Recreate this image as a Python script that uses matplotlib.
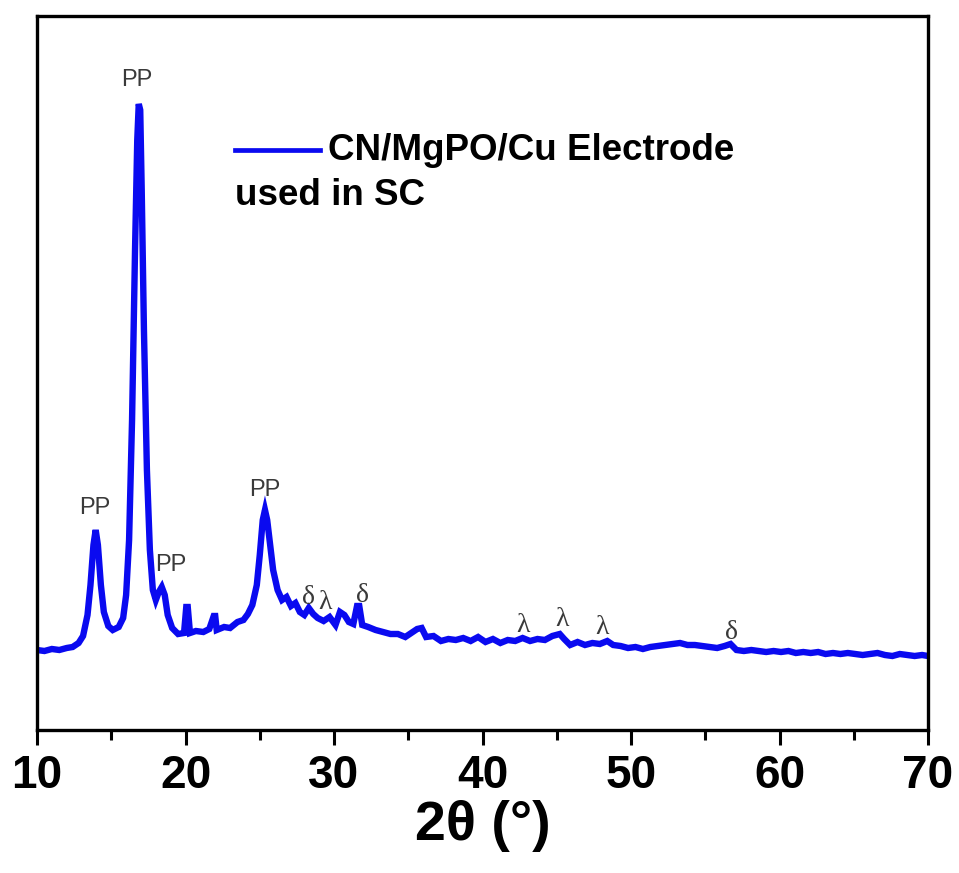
import numpy as np
import matplotlib
matplotlib.use("Agg")
from matplotlib import pyplot as plt

# XRD pattern, values (intensity in arbitrary units)
two_theta = [10.0, 10.5, 11.0, 11.5, 12.0, 12.4, 12.8, 13.1, 13.4, 13.6, 13.8, 13.95,
             14.1, 14.3, 14.5, 14.8, 15.1, 15.5, 15.8, 16.0, 16.2, 16.4, 16.6, 16.75,
             16.85, 16.95, 17.05, 17.2, 17.4, 17.6, 17.8, 18.0, 18.2, 18.4, 18.6, 18.8,
             19.1, 19.5, 19.9, 20.05, 20.15, 20.3, 20.7, 21.2, 21.6, 21.9, 22.0, 22.1,
             22.6, 23.0, 23.5, 23.9, 24.2, 24.5, 24.8, 25.0, 25.2, 25.35, 25.5, 25.7,
             25.9, 26.2, 26.5, 26.8, 27.1, 27.4, 27.7, 28.0, 28.3, 28.6, 28.9, 29.3,
             29.7, 30.1, 30.4, 30.7, 31.0, 31.3, 31.55, 31.7, 31.9, 32.3, 32.8, 33.3,
             33.8, 34.3, 34.8, 35.2, 35.6, 35.9, 36.2, 36.7, 37.2, 37.7, 38.2, 38.7,
             39.2, 39.7, 40.2, 40.7, 41.2, 41.7, 42.2, 42.7, 43.2, 43.7, 44.2, 44.7,
             45.2, 45.5, 45.9, 46.4, 46.9, 47.4, 47.9, 48.4, 48.8, 49.3, 49.8, 50.3,
             50.8, 51.3, 51.8, 52.3, 52.8, 53.3, 53.8, 54.3, 54.8, 55.3, 55.8, 56.3,
             56.7, 57.1, 57.6, 58.1, 58.6, 59.1, 59.6, 60.1, 60.6, 61.1, 61.6, 62.1,
             62.6, 63.1, 63.6, 64.1, 64.6, 65.1, 65.6, 66.1, 66.6, 67.1, 67.6, 68.1,
             68.6, 69.1, 69.6, 70.0]
pixel_y = [650, 651, 649, 650, 648, 647, 643, 636, 615, 585, 545, 530,
           545, 585, 612, 626, 630, 627, 618, 595, 540, 420, 250, 140,
           104, 110, 190, 330, 470, 550, 590, 600, 592, 587, 595, 615,
           628, 634, 633, 607, 607, 633, 631, 632, 629, 616, 616, 630,
           627, 628, 622, 620, 614, 605, 585, 555, 520, 510, 520, 545,
           570, 590, 600, 597, 606, 603, 612, 615, 608, 614, 618, 621,
           617, 625, 612, 615, 622, 624, 606, 606, 625, 627, 630, 632,
           634, 634, 637, 633, 629, 628, 637, 636, 641, 639, 640, 638,
           641, 637, 642, 639, 643, 640, 641, 638, 641, 639, 640, 636,
           634, 639, 645, 642, 645, 643, 644, 641, 645, 646, 648, 647,
           649, 647, 646, 645, 644, 643, 645, 645, 646, 647, 648, 646,
           644, 650, 651, 650, 651, 652, 651, 652, 651, 653, 652, 653,
           652, 654, 653, 654, 653, 654, 655, 654, 653, 655, 656, 654,
           655, 656, 655, 656]
intensity = [730 - v for v in pixel_y]

# peak labels: (text, 2theta, intensity)
pp_labels = [("PP", 13.9, 222), ("PP", 16.73, 650), ("PP", 19.0, 165), ("PP", 25.35, 240)]
phase_labels = [("δ", 28.25, 132), ("λ", 29.4, 127), ("δ", 31.95, 134),
                ("λ", 42.75, 104), ("λ", 45.35, 110), ("λ", 48.05, 102), ("δ", 56.75, 97)]

fig = plt.figure(figsize=(9.59, 8.73), dpi=100)
ax = fig.add_axes([0.0386, 0.1638, 0.9291, 0.8179])

ax.plot(two_theta, intensity, color="#0a0af0", lw=4.6, solid_joinstyle="miter")

for txt, x, y in pp_labels:
    ax.text(x, y, txt, ha="center", va="center", fontsize=17,
            family="Liberation Sans", color="#3a3a3a")
for txt, x, y in phase_labels:
    ax.text(x, y, txt, ha="center", va="center", fontsize=20,
            family="Liberation Serif", color="#3a3a3a")

# legend drawn by hand, two-line label
ax.plot([0.222, 0.318], [0.812, 0.812], transform=ax.transAxes, color="#0a0af0", lw=3.4)
ax.text(0.327, 0.812, "CN/MgPO/Cu Electrode", transform=ax.transAxes, ha="left", va="center",
        fontsize=26.5, fontweight="bold", family="Liberation Sans")
ax.text(0.222, 0.749, "used in SC", transform=ax.transAxes, ha="left", va="center",
        fontsize=26.5, fontweight="bold", family="Liberation Sans")

ax.set_xlim(10, 70)
ax.set_ylim(0, 714)
ax.set_xticks(np.arange(10, 71, 10))
ax.set_xticks(np.arange(15, 70, 10), minor=True)
ax.set_yticks([])
ax.tick_params(axis="x", which="major", direction="out", length=11, width=2.2, pad=6,
               labelsize=33)
ax.tick_params(axis="x", which="minor", direction="out", length=7, width=2.2)
for lab in ax.get_xticklabels():
    lab.set_fontweight("bold")
    lab.set_family("Liberation Sans")
for sp in ax.spines.values():
    sp.set_linewidth(2.4)

ax.set_xlabel("2θ (°)", fontsize=40, fontweight="bold", family="Liberation Sans", labelpad=2)

plt.savefig("out.png", dpi=100)
